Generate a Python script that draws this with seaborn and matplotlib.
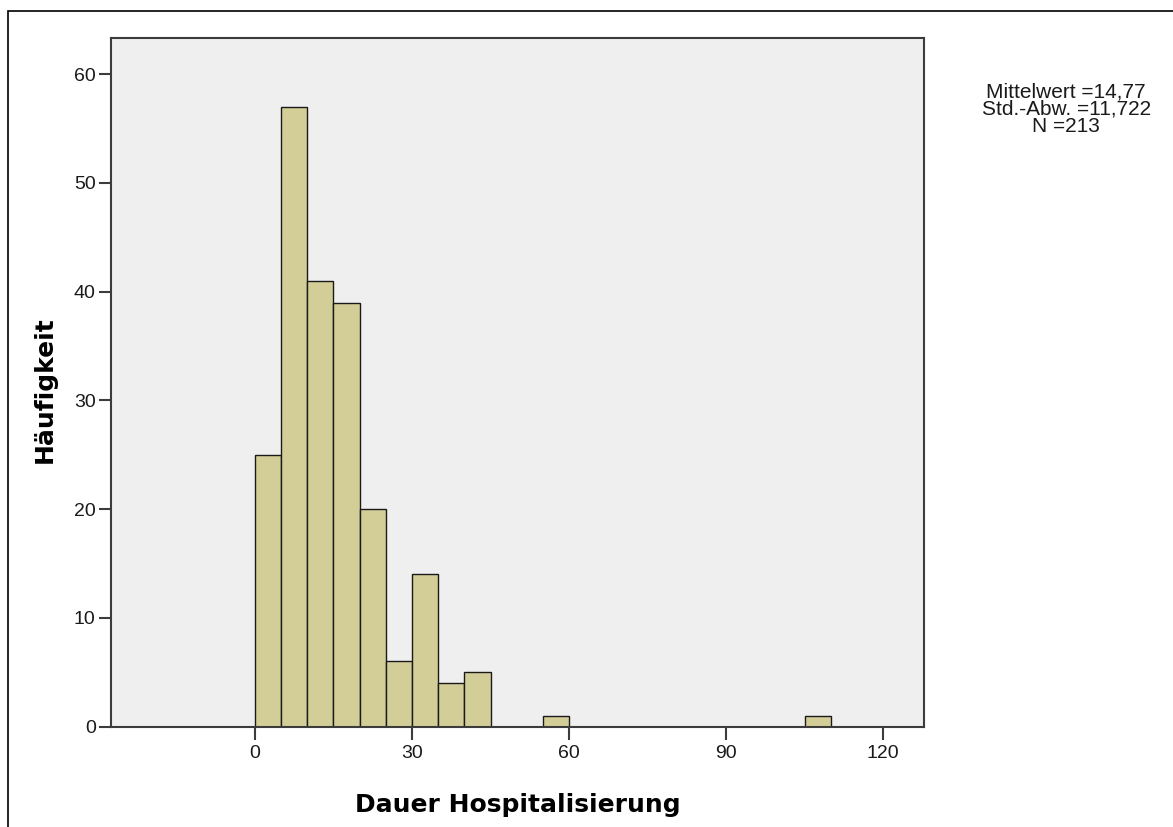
import pandas as pd
import seaborn as sns
import matplotlib.pyplot as plt
from matplotlib.patches import Rectangle

# --- DATA ---
bin_starts = [0, 5, 10, 15, 20, 25, 30, 35, 40, 55, 105]
counts = [25, 57, 41, 39, 20, 6, 14, 4, 5, 1, 1]
bin_width = 5
x_ticks = [0, 30, 60, 90, 120]
y_ticks = [0, 10, 20, 30, 40, 50, 60]
stats_lines = ["Mittelwert =14,77", "Std.-Abw. =11,722", "N =213"]

df = pd.DataFrame({"Dauer": [b + bin_width / 2 for b in bin_starts],
                   "Anzahl": counts})

# --- STYLE ---
sns.set_theme(style="ticks", rc={
    "axes.facecolor": "#efefef",
    "axes.edgecolor": "#3c3c3c",
    "axes.linewidth": 1.5,
    "xtick.color": "#3c3c3c",
    "ytick.color": "#3c3c3c",
})
plt.rcParams["font.family"] = ["Liberation Sans", "DejaVu Sans"]

fig = plt.figure(figsize=(11.73, 8.27), dpi=100)
ax = fig.add_axes([0.0946, 0.1213, 0.6931, 0.8324])

sns.histplot(
    data=df,
    x="Dauer",
    weights="Anzahl",
    binwidth=bin_width,
    binrange=(0, 110),
    color="#d3ce97",
    alpha=1.0,
    edgecolor="#1a1a1a",
    linewidth=1.0,
    ax=ax,
)
# drop empty bins so they leave no outline on the baseline
for p in ax.patches:
    if p.get_height() == 0:
        p.set_visible(False)

ax.set_xlim(-27.5, 127.8)
ax.set_ylim(0, 63.3)
ax.set_xticks(x_ticks)
ax.set_yticks(y_ticks)
ax.tick_params(axis="both", length=9, width=1.5, labelsize=14,
               labelcolor="#1a1a1a")
ax.tick_params(axis="x", pad=4)
ax.tick_params(axis="y", pad=2)

for side in ["top", "right", "bottom", "left"]:
    ax.spines[side].set_visible(True)

ax.set_xlabel("Dauer Hospitalisierung", fontsize=18, fontweight="bold",
              family="DejaVu Sans", va="baseline", color="black")
ax.xaxis.set_label_coords(0.5, -0.124)
ax.set_ylabel("Häufigkeit", fontsize=18, fontweight="bold",
              family="DejaVu Sans", color="black")
ax.yaxis.set_label_coords(-0.067, 0.49)

# summary statistics box to the right of the plot
fig.text(0.909, 0.9008, "\n".join(stats_lines), ha="center", va="top",
         fontsize=15, linespacing=0.9, color="#1a1a1a")

# outer frame of the SPSS output (only left/top edges visible)
fig.patches.append(Rectangle((8 / 1173, -0.1), 1.2, (827 - 10.7) / 827 + 0.1,
                             transform=fig.transFigure, fill=False,
                             edgecolor="black", linewidth=1.2, clip_on=False))

fig.savefig("out.png", dpi=100, facecolor="white")
plt.close(fig)
